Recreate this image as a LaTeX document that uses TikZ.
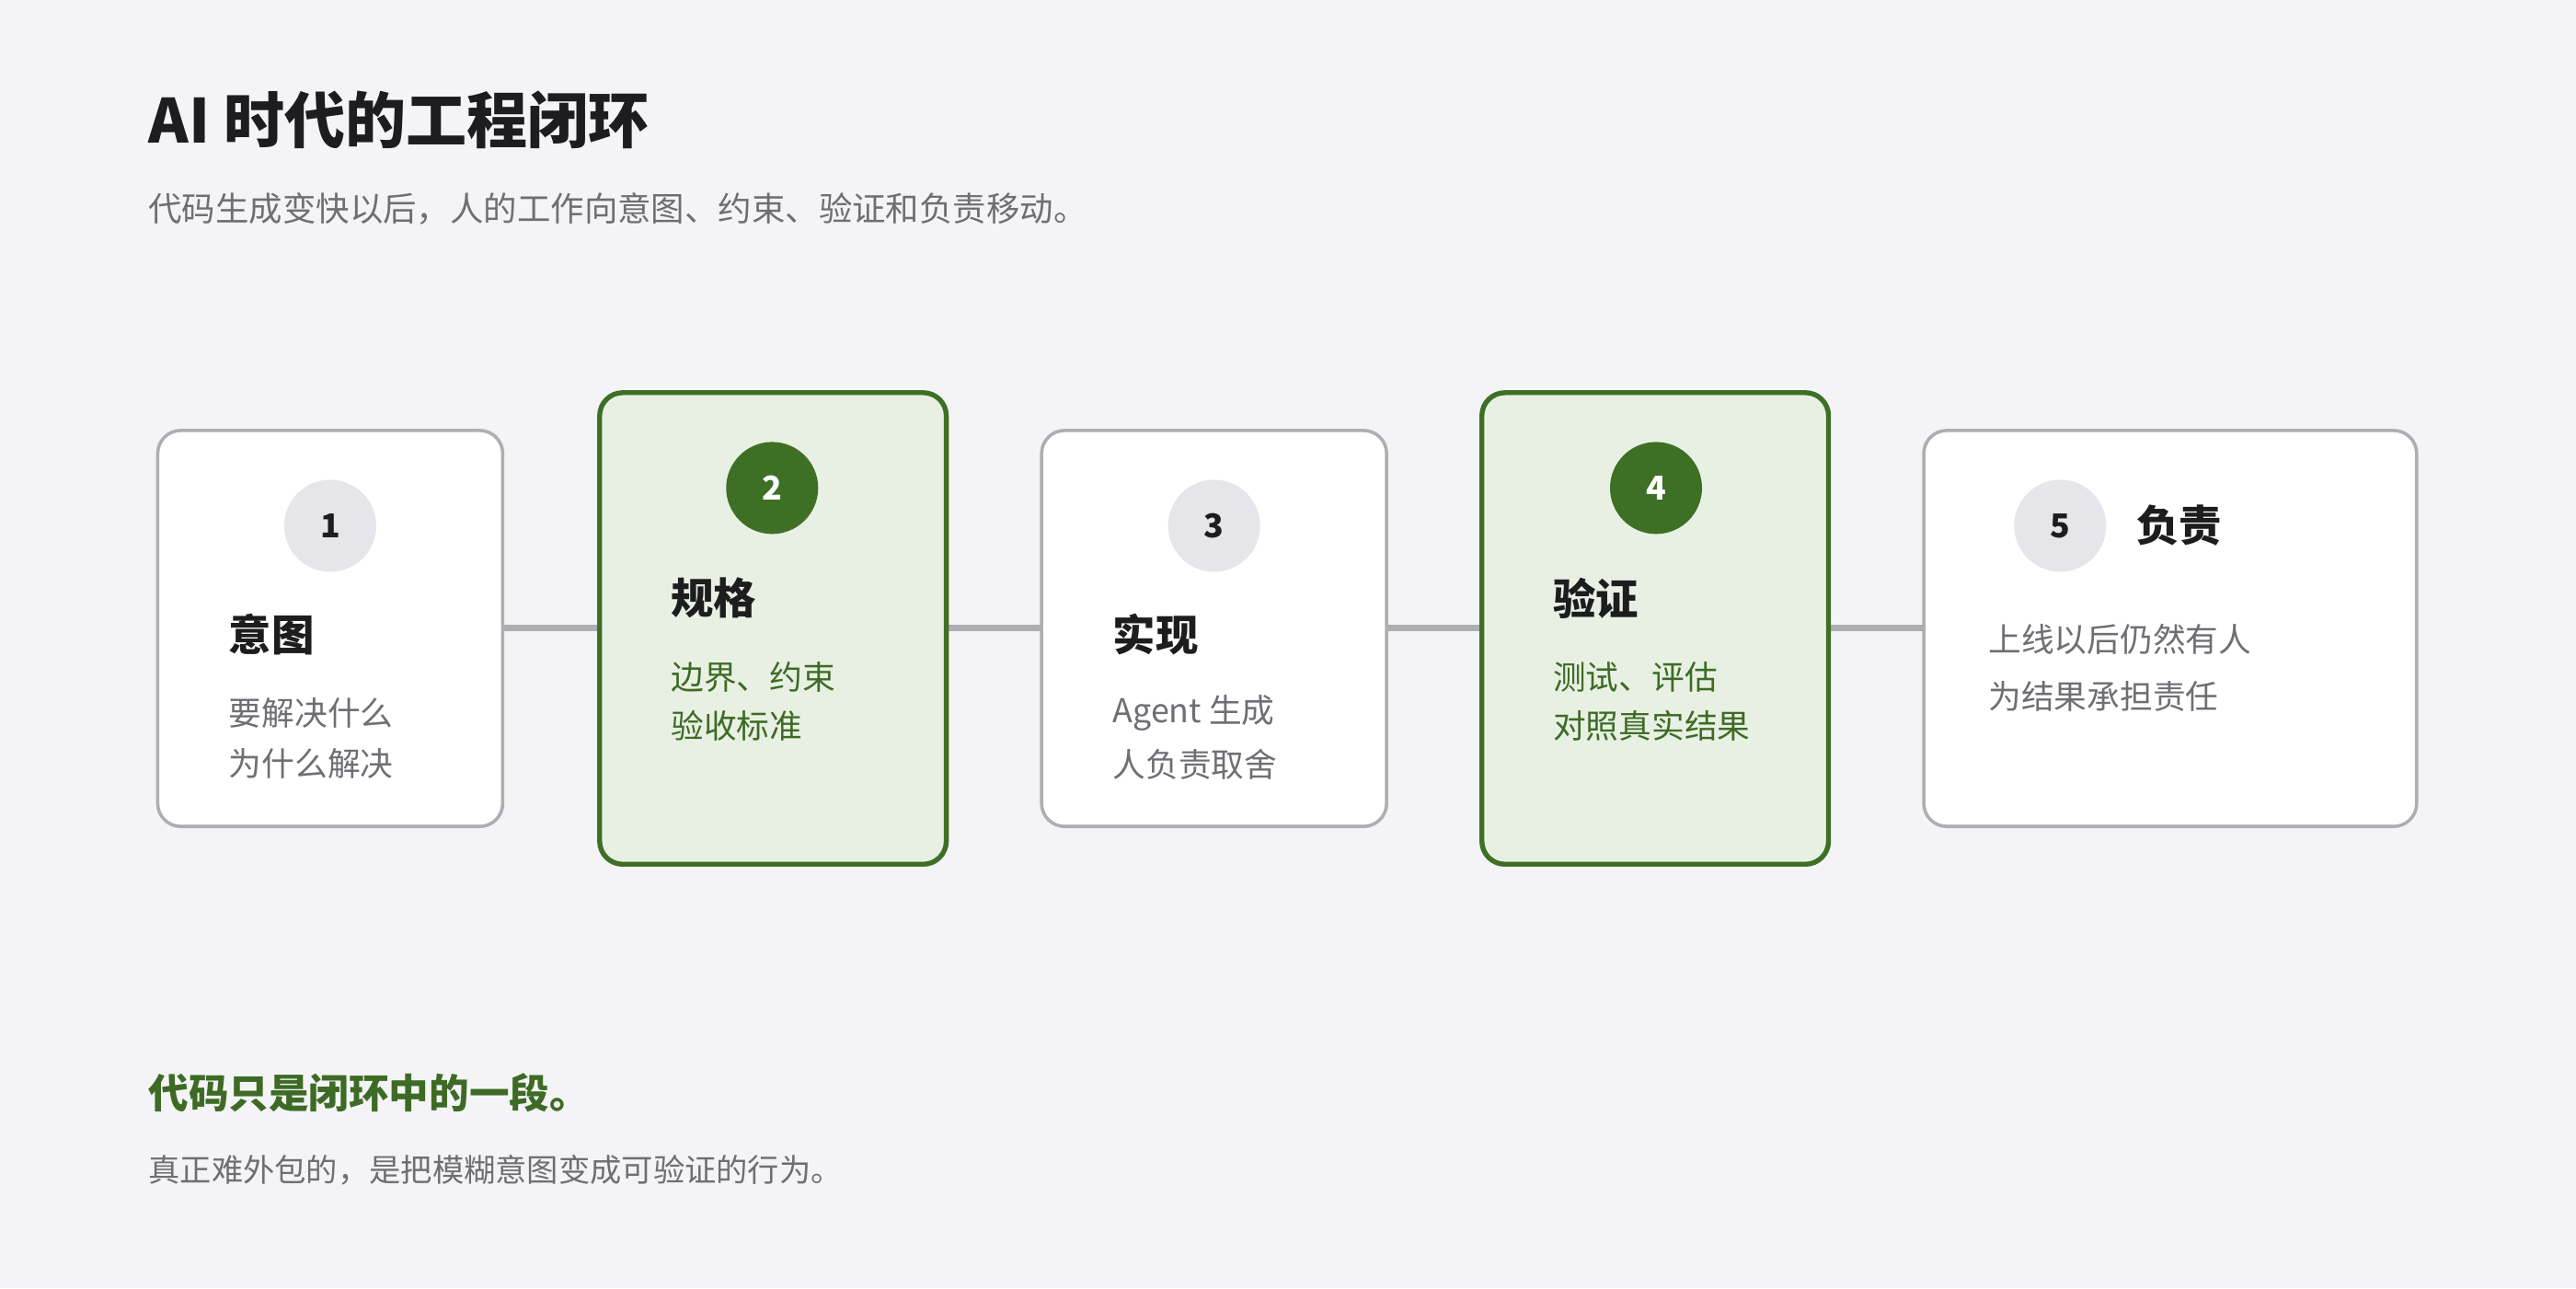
\documentclass[tikz,border=0pt]{standalone}
\usepackage{fontspec}
\setmainfont{Noto Sans CJK SC}
\begin{document}
\definecolor{bg}{HTML}{F4F4F6}
\definecolor{gbord}{HTML}{3D7025}
\definecolor{gfill}{HTML}{E8F0E3}
\definecolor{gtext}{HTML}{3D6B25}
\definecolor{grayb}{HTML}{AEAEB2}
\definecolor{circ}{HTML}{E6E6EA}
\definecolor{dark}{HTML}{1D1D1F}
\definecolor{mid}{HTML}{6E6E73}
\begin{tikzpicture}[x=0.5pt,y=-0.5pt,
  card/.style={draw=grayb,line width=1pt,fill=white,rounded corners=7pt},
  gcard/.style={draw=gbord,line width=1.5pt,fill=gfill,rounded corners=7pt},
  num/.style={circle,fill=circ,minimum size=28pt,inner sep=0,font=\fontsize{10}{12}\selectfont\bfseries,text=dark},
  gnum/.style={circle,fill=gbord,minimum size=28pt,inner sep=0,font=\fontsize{10}{12}\selectfont\bfseries,text=white},
  ttl/.style={anchor=west,inner sep=0,font=\fontsize{13}{16}\selectfont\bfseries,text=dark},
  body/.style={anchor=west,inner sep=0,font=\fontsize{10}{12}\selectfont,text=mid},
  gbody/.style={anchor=west,inner sep=0,font=\fontsize{10}{12}\selectfont,text=gtext},
  conn/.style={draw=grayb,line width=2pt}]
\fill[bg] (0,0) rectangle (1568,784);
\node[anchor=west,inner sep=0,font=\fontsize{18.5}{22}\selectfont\bfseries,text=dark] (title) at (90,73) {AI 时代的工程闭环};
\node[anchor=west,inner sep=0,font=\fontsize{10.2}{12}\selectfont,text=mid] (sub) at (90,127) {代码生成变快以后，人的工作向意图、约束、验证和负责移动。};
\coordinate (l1) at (306,382); \coordinate (l2) at (365,382);
\coordinate (l3) at (576,382); \coordinate (l4) at (634,382);
\coordinate (l5) at (844,382); \coordinate (l6) at (902,382);
\coordinate (l7) at (1113,382); \coordinate (l8) at (1171,382);
\draw[conn] (l1)--(l2); \draw[conn] (l3)--(l4); \draw[conn] (l5)--(l6); \draw[conn] (l7)--(l8);
\draw[card] (96,262) rectangle (306,503);
\draw[gcard] (365,239) rectangle (576,526);
\draw[card] (634,262) rectangle (844,503);
\draw[gcard] (902,239) rectangle (1113,526);
\draw[card] (1171,262) rectangle (1471,503);
\node[num] (n1) at (201,320) {1};
\node[gnum] (n2) at (470,297) {2};
\node[num] (n3) at (739,320) {3};
\node[gnum] (n4) at (1008,297) {4};
\node[num] (n5) at (1254,320) {5};
\node[ttl] (t1) at (139,386) {意图};
\node[ttl] (t2) at (408,364) {规格};
\node[ttl] (t3) at (677,386) {实现};
\node[ttl] (t4) at (945,364) {验证};
\node[ttl] (t5) at (1300,320) {负责};
\node[body] (b1a) at (139,434) {要解决什么};
\node[body] (b1b) at (139,465) {为什么解决};
\node[gbody] (b2a) at (408,412) {边界、约束};
\node[gbody] (b2b) at (408,442) {验收标准};
\node[body] (b3a) at (677,434) {Agent 生成};
\node[body] (b3b) at (677,465) {人负责取舍};
\node[gbody] (b4a) at (945,412) {测试、评估};
\node[gbody] (b4b) at (945,442) {对照真实结果};
\node[body] (b5a) at (1210,389) {上线以后仍然有人};
\node[body] (b5b) at (1210,424) {为结果承担责任};
\node[anchor=west,inner sep=0,font=\fontsize{12.2}{14}\selectfont\bfseries,text=gtext] (foot) at (90,665) {代码只是闭环中的一段。};
\node[anchor=west,inner sep=0,font=\fontsize{9.6}{12}\selectfont,text=mid] (foot2) at (90,712) {真正难外包的，是把模糊意图变成可验证的行为。};
\end{tikzpicture}
\end{document}
